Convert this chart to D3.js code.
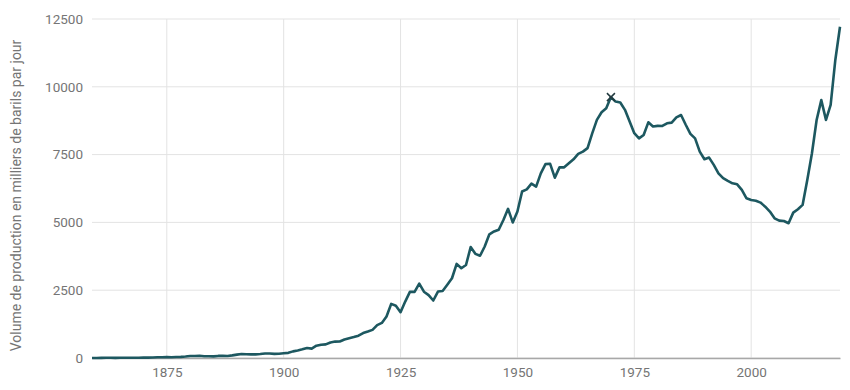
<!DOCTYPE html>
<html>
<head>
<meta charset="utf-8">
<script src="https://cdn.jsdelivr.net/npm/d3@7"></script>
<style>
  body { margin: 0; background: #fff; }
  #chart { width: 850px; height: 390px; }
  text { font-family: Roboto, "Noto Sans", sans-serif; }
</style>
</head>
<body>
<div id="chart"></div>
<script>
// annual values, thousands of barrels per day, 1859 to 2019
var startYear = 1859;
var production = [
    0, 1.4, 5.8, 8.4, 7.2, 5.8, 6.8, 9.8, 9.2, 10.0, 11.5,          // 1859-1869
    14.4, 14.3, 17.3, 27.3, 29.9, 33.5, 25.1, 36.8, 42.3, 54.7,     // 1870-1879
    72.5, 75.3, 82.6, 63.8, 66.3, 59.8, 76.6, 77.5, 75.4, 96.1,     // 1880-1889
    124.8, 148.9, 138.8, 132.7, 135.4, 145.1, 166.2, 165.8, 152.2, 156.3, // 1890-1899
    174, 190, 244, 275, 319, 369, 347, 453, 490, 501,               // 1900-1909
    574, 605, 610, 682, 729, 771, 824, 918, 974, 1038,              // 1910-1919
    1214, 1294, 1531, 1995, 1925, 1690, 2080, 2440, 2440, 2745,     // 1920-1929
    2445, 2320, 2120, 2450, 2470, 2700, 2940, 3470, 3310, 3430,     // 1930-1939
    4090, 3840, 3770, 4110, 4560, 4665, 4730, 5090, 5500, 5000,     // 1940-1949
    5400, 6140, 6220, 6430, 6320, 6810, 7150, 7160, 6650, 7030,     // 1950-1959
    7030, 7180, 7325, 7525, 7610, 7740, 8285, 8780, 9060, 9210,     // 1960-1969
    9620, 9455, 9420, 9150, 8720, 8290, 8100, 8225, 8690, 8535,     // 1970-1979
    8560, 8555, 8655, 8680, 8875, 8960, 8600, 8265, 8100, 7610,     // 1980-1989
    7330, 7390, 7120, 6810, 6630, 6530, 6440, 6405, 6200, 5890,     // 1990-1999
    5826, 5800, 5730, 5580, 5400, 5150, 5065, 5050, 4970, 5360,     // 2000-2009
    5485, 5645, 6560, 7550, 8775, 9510, 8780, 9330, 10990, 12215    // 2010-2019
];
var years = production.map(function(v, i) { return startYear + i; });
var peakYear = 1970;

var xTicks = [1875, 1900, 1925, 1950, 1975, 2000];
var yTicks = [0, 2500, 5000, 7500, 10000, 12500];
var yTitle = "Volume de production en milliers de barils par jour";

var width = 850, height = 390;
var margin = { top: 19, right: 10, bottom: 32, left: 92 };

var svg = d3.select("#chart").append("svg")
    .attr("width", width)
    .attr("height", height);

var x = d3.scaleLinear()
    .domain([startYear, startYear + production.length - 1])
    .range([margin.left, width - margin.right]);

var y = d3.scaleLinear()
    .domain([0, 12500])
    .range([height - margin.bottom, margin.top]);

// grid
svg.append("g")
    .selectAll("line.h")
    .data(yTicks)
    .enter()
    .append("line")
    .attr("x1", x.range()[0])
    .attr("x2", x.range()[1])
    .attr("y1", function(d) { return y(d); })
    .attr("y2", function(d) { return y(d); })
    .attr("stroke", "#e3e3e3")
    .attr("stroke-width", 1);

svg.append("g")
    .selectAll("line.v")
    .data(xTicks)
    .enter()
    .append("line")
    .attr("x1", function(d) { return x(d); })
    .attr("x2", function(d) { return x(d); })
    .attr("y1", y.range()[1])
    .attr("y2", y.range()[0])
    .attr("stroke", "#e3e3e3")
    .attr("stroke-width", 1);

// axes
var xAxis = svg.append("g")
    .attr("transform", "translate(0," + y(0) + ")")
    .call(d3.axisBottom(x).tickValues(xTicks).tickFormat(d3.format("d")).tickSize(0).tickPadding(9));
xAxis.select(".domain").attr("stroke", "#a8a8a8").attr("stroke-width", 1.3);
xAxis.selectAll("text").attr("fill", "#757575").attr("font-size", "13.5px")
    .attr("font-family", "Roboto, sans-serif");

var yAxis = svg.append("g")
    .attr("transform", "translate(" + margin.left + ",0)")
    .call(d3.axisLeft(y).tickValues(yTicks).tickFormat(d3.format("d")).tickSize(0).tickPadding(9));
yAxis.select(".domain").remove();
yAxis.selectAll("text").attr("fill", "#757575").attr("font-size", "13.5px")
    .attr("font-family", "Roboto, sans-serif");

svg.append("text")
    .attr("transform", "translate(21," + ((margin.top + y(0)) / 2 + 7) + ") rotate(-90)")
    .attr("text-anchor", "middle")
    .attr("font-size", "14px")
    .attr("fill", "#757575")
    .text(yTitle);

// line
var line = d3.line()
    .x(function(d, i) { return x(years[i]); })
    .y(function(d) { return y(d); });

svg.append("path")
    .datum(production)
    .attr("d", line)
    .attr("fill", "none")
    .attr("stroke", "#1d5860")
    .attr("stroke-width", 2.6)
    .attr("stroke-linejoin", "round");

// peak marker
var peakVal = production[peakYear - startYear];
var s = 4;
svg.append("path")
    .attr("d", "M" + (x(peakYear) - s) + "," + (y(peakVal) - s) + "L" + (x(peakYear) + s) + "," + (y(peakVal) + s) +
               "M" + (x(peakYear) + s) + "," + (y(peakVal) - s) + "L" + (x(peakYear) - s) + "," + (y(peakVal) + s))
    .attr("stroke", "#223a3f")
    .attr("stroke-width", 1.5);
</script>
</body>
</html>
